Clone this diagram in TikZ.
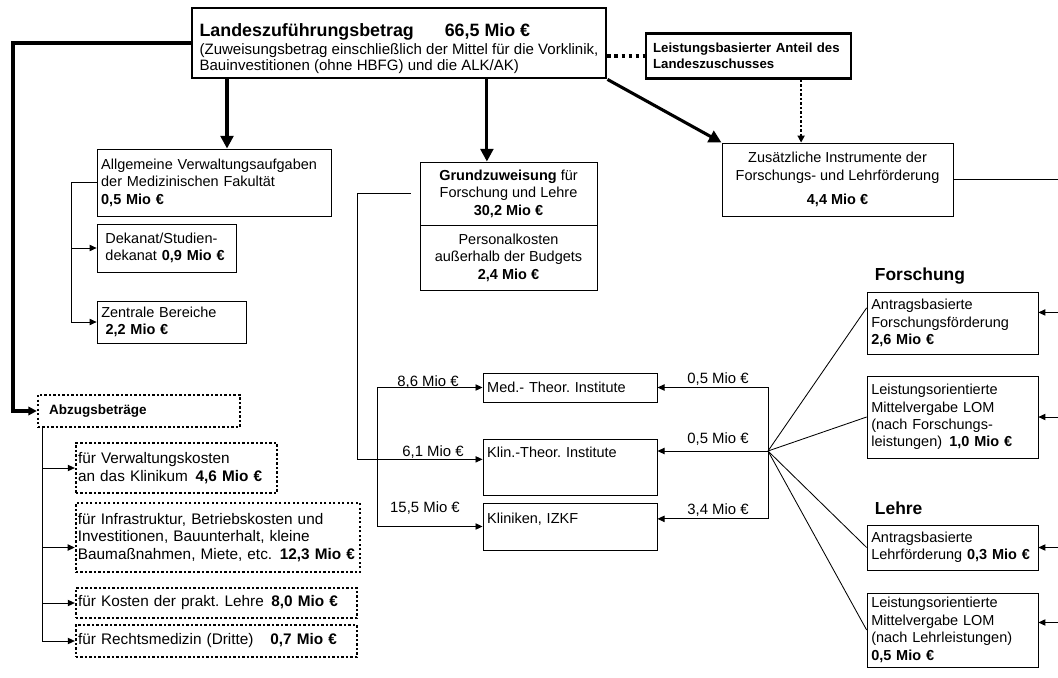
\documentclass[tikz,border=0pt]{standalone}
\usepackage{fontspec}
\setmainfont{Liberation Sans}
\usetikzlibrary{arrows.meta,positioning}
\newcommand{\Mio}[1]{\textbf{#1 Mio €}}
\frenchspacing

\begin{document}
\begin{tikzpicture}[x=0.025cm, y=-0.025cm,
  base/.style={draw, line width=0.6pt, inner xsep=3pt, inner ysep=2pt,
               font=\fontsize{10.3pt}{12.4pt}\selectfont},
  lbox/.style={base, align=left},
  cbox/.style={base, align=center},
  hbox/.style={base, line width=2pt},
  dbox/.style={base, align=left, inner xsep=1.5pt, line width=1.6pt,
               dash pattern=on 1.6pt off 1.6pt,
               font=\fontsize{10.9pt}{12.6pt}\selectfont},
  lab/.style={inner sep=1pt, font=\fontsize{10.6pt}{12pt}\selectfont},
  head/.style={inner sep=0pt, font=\fontsize{12.4pt}{14pt}\selectfont\bfseries},
  arr/.style={-{Triangle[length=5pt,width=4.5pt]}, line width=0.6pt},
  harr/.style={-{Triangle[length=9pt,width=9pt]}, line width=2.2pt},
  darr/.style={-{Triangle[length=5pt,width=5pt]}, line width=1.6pt,
               dash pattern=on 1.6pt off 1.6pt}
]
\useasboundingbox (0,0) rectangle (1058,677);

% top
\node[hbox, align=left, minimum width=10.35cm, minimum height=1.75cm,
      font=\fontsize{10.7pt}{11pt}\selectfont] (title) at (399,43)
  {\rule{0pt}{17pt}{\fontsize{12.7pt}{15pt}\selectfont\bfseries Landeszuführungsbetrag\hspace{22pt}66,5 Mio €}\\[2pt]
   (Zuweisungsbetrag einschließlich der Mittel für die Vorklinik,\\
   Bauinvestitionen (ohne HBFG) und die ALK/AK)};
\node[hbox, line width=1.8pt, align=left, inner xsep=5pt, text width=4.77cm, minimum height=1.125cm,
      font=\fontsize{9.4pt}{11pt}\selectfont\bfseries] (leist) at (748.5,56)
  {Leistungsbasierter Anteil des\\Landeszuschusses};
\node[cbox, minimum width=5.775cm, minimum height=1.825cm] (zus) at (837.5,179.5)
  {Zusätzliche Instrumente der\\Forschungs- und Lehrförderung\\[5pt]\Mio{4,4}};

% Verwaltung
\node[lbox, text width=5.64cm, minimum height=1.675cm] (allg) at (214,182.5)
  {Allgemeine Verwaltungsaufgaben\\der Medizinischen Fakultät\\\Mio{0,5}};
\node[lbox, inner xsep=6pt, text width=3.05cm, minimum height=1.2cm] (dek) at (166.5,248)
  {Dekanat/Studien-\\dekanat \Mio{0,9}};
\node[lbox, text width=3.51cm, minimum height=1.05cm] (zent) at (171.5,322)
  {Zentrale Bereiche\\\hspace*{3pt}\Mio{2,2}};

% Grundzuweisung
\node[cbox, minimum width=4.425cm, minimum height=1.575cm] (grund) at (508.5,193.5)
  {\textbf{Grundzuweisung} für\\Forschung und Lehre\\\Mio{30,2}};
\node[cbox, minimum width=4.425cm, minimum height=1.625cm] (pers) at (508.5,257.5)
  {Personalkosten\\außerhalb der Budgets\\\Mio{2,4}};

% Institute
\node[lbox, text width=4.14cm, minimum height=0.725cm] (med) at (570,387.5)
  {Med.- Theor. Institute};
\node[lbox, text width=4.14cm, minimum height=1.4cm] (klin) at (570,467)
  {Klin.-Theor. Institute\\[8pt]~};
\node[lbox, text width=4.14cm, minimum height=1.175cm] (klinik) at (570,526.5)
  {Kliniken, IZKF\\~};

% Forschung / Lehre
\node[lbox, text width=4.06cm, minimum height=1.55cm] (fb1) at (952.5,323)
  {Antragsbasierte\\Forschungsförderung\\\Mio{2,6}};
\node[lbox, text width=4.06cm, minimum height=2.05cm] (fb2) at (952.5,417)
  {Leistungsorientierte\\Mittelvergabe LOM\\(nach Forschungs-\\leistungen)\enspace\Mio{1,0}};
\node[lbox, text width=4.06cm, minimum height=1.125cm] (fb3) at (952.5,547.5)
  {Antragsbasierte\\Lehrförderung \Mio{0,3}};
\node[lbox, text width=4.06cm, minimum height=1.85cm] (fb4) at (952.5,630)
  {Leistungsorientierte\\Mittelvergabe LOM\\(nach Lehrleistungen)\\\Mio{0,5}};
\node[head, anchor=base west] (forsch) at ([shift={(0.2cm,0.27cm)}]fb1.north west) {Forschung};
\node[head, anchor=base west] (lehre) at ([shift={(0.2cm,0.25cm)}]fb3.north west) {Lehre};

% Abzugsbetraege
\node[dbox, inner xsep=8pt, text width=4.49cm, minimum height=0.8cm,
      font=\fontsize{9.6pt}{11pt}\selectfont\bfseries] (abz) at (139,411) {Abzugsbeträge};
\node[dbox, text width=4.92cm, minimum height=1.25cm] (ab1) at (176.5,468)
  {für Verwaltungskosten\\an das Klinikum\enspace\Mio{4,6}};
\node[dbox, text width=7.0cm, minimum height=1.725cm] (ab2) at (218,537.5)
  {für Infrastruktur, Betriebskosten und\\Investitionen, Bauunterhalt, kleine\\Baumaßnahmen, Miete, etc.\enspace\Mio{12,3}};
\node[dbox, text width=6.92cm, minimum height=0.75cm] (ab3) at (216.5,603)
  {für Kosten der prakt. Lehre\enspace\Mio{8,0}};
\node[dbox, text width=6.92cm, minimum height=0.8cm] (ab4) at (216.5,641)
  {für Rechtsmedizin (Dritte)\hspace{12pt}\Mio{0,7}};

% amounts
\node[lab] (l86) at (428,382) {8,6 Mio €};
\node[lab] (l61) at (433,452) {6,1 Mio €};
\node[lab] (l155) at (425,508) {15,5 Mio €};
\node[lab] (r05a) at (718,379) {0,5 Mio €};
\node[lab] (r05b) at (718,439) {0,5 Mio €};
\node[lab] (r34) at (718,510) {3,4 Mio €};

\coordinate (lc) at (13,43);
\coordinate (a1) at ([xshift=3.25mm]allg.north);
\coordinate (a2) at ([xshift=-5.4mm]grund.north);
\coordinate (a3) at ([xshift=-9.1mm]zus.north);
\coordinate (lb) at (71,0);
\coordinate (gl) at (357,0);
\coordinate (ml) at (377,0);
\coordinate (hub) at (768,451);
\coordinate (re) at (1058,0);
\coordinate (av) at (42,0);

% thick
\draw[harr, -{Triangle[length=6pt,width=6pt]}] (title.west) -- (lc) |- (abz.west);
\draw[harr] (title.south -| a1) -- (a1);
\draw[harr] (title.south -| a2) -- (a2);
\draw[harr] (title.south east) -- (zus.north west);
\draw[line width=2.5pt, dash pattern=on 2.5pt off 2.5pt] (leist.west -| title.east) -- (leist.west);
\draw[darr] (leist.south -| a3) -- (a3);
\draw[line width=0.6pt] (zus.east) -- (zus.east -| re);

% Verwaltung
\draw[arr] (allg.west) -| (zent.west -| lb) -- (zent.west);
\draw[arr] (dek.west -| lb) -- (dek.west);

% Grundzuweisung
\draw[arr] ([xshift=-2.25mm]grund.west) -| (klin.175 -| gl) -- (klin.175);
\draw[arr] (med.west -| ml) -- (med.west);
\draw[arr] (med.west -| ml) |- (klinik.west);

% Zusatz
\draw[arr] (hub) -- (hub -| klin.east);
\draw[arr] (hub) |- (med.east);
\draw[arr] (hub) |- (klinik.5);
\draw[line width=0.6pt] (hub) -- (fb1.170);
\draw[line width=0.6pt] (hub) -- (fb2.west);
\draw[line width=0.6pt] (hub) -- (fb3.west);
\draw[line width=0.6pt] (hub) -- (fb4.west);
\draw[arr] (fb1.7 -| re) -- (fb1.7);
\draw[arr] (fb2.east -| re) -- (fb2.east);
\draw[arr] (fb3.east -| re) -- (fb3.east);
\draw[arr] (fb4.5 -| re) -- (fb4.5);

% Abzug
\draw[arr] (abz.south -| av) |- (ab4.west);
\draw[arr] (ab1.west -| av) -- (ab1.west);
\draw[arr] (ab2.184 -| av) -- (ab2.184);
\draw[arr] (ab3.west -| av) -- (ab3.west);
\end{tikzpicture}
\end{document}
